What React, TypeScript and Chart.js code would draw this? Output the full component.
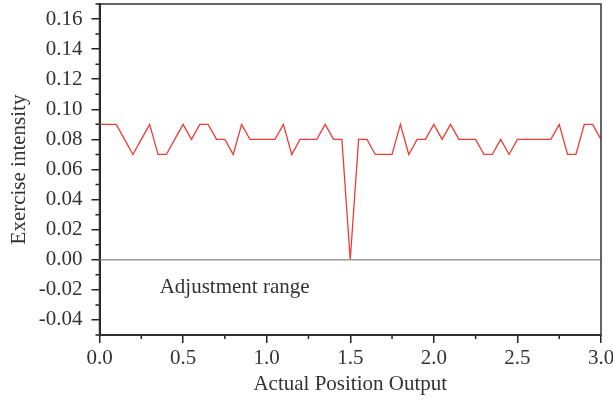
import React, { useEffect, useRef } from "react";
import { Chart, registerables } from "chart.js";

Chart.register(...registerables);

const positions = [
  0, 0.05, 0.1, 0.15, 0.2, 0.25, 0.3, 0.35, 0.4, 0.45,
  0.5, 0.55, 0.6, 0.65, 0.7, 0.75, 0.8, 0.85, 0.9, 0.95,
  1.0, 1.05, 1.1, 1.15, 1.2, 1.25, 1.3, 1.35, 1.4, 1.45,
  1.5, 1.55, 1.6, 1.65, 1.7, 1.75, 1.8, 1.85, 1.9, 1.95,
  2.0, 2.05, 2.1, 2.15, 2.2, 2.25, 2.3, 2.35, 2.4, 2.45,
  2.5, 2.55, 2.6, 2.65, 2.7, 2.75, 2.8, 2.85, 2.9, 2.95, 3.0,
];

const intensity = [
  0.09, 0.09, 0.09, 0.08, 0.07, 0.08, 0.09, 0.07, 0.07, 0.08,
  0.09, 0.08, 0.09, 0.09, 0.08, 0.08, 0.07, 0.09, 0.08, 0.08,
  0.08, 0.08, 0.09, 0.07, 0.08, 0.08, 0.08, 0.09, 0.08, 0.08,
  0.0, 0.08, 0.08, 0.07, 0.07, 0.07, 0.09, 0.07, 0.08, 0.08,
  0.09, 0.08, 0.09, 0.08, 0.08, 0.08, 0.07, 0.07, 0.08, 0.07,
  0.08, 0.08, 0.08, 0.08, 0.08, 0.09, 0.07, 0.07, 0.09, 0.09, 0.08,
];

const adjustmentX = [0, 3];
const adjustmentY = [0, 0];

const annotationText = "Adjustment range";
const annotationX = 0.36;
const annotationY = -0.0185;

const xTitle = "Actual Position Output";
const yTitle = "Exercise intensity";

const FONT = "'Liberation Serif', 'Times New Roman', serif";
const FSIZE = 21;
const TEXT = "#333333";
const AXIS = "#222222";

const isMajorX = (v: number) => Math.abs(v * 2 - Math.round(v * 2)) < 1e-6;
const isMajorY = (v: number) => Math.round(v * 100) % 2 === 0;

const extrasPlugin = {
  id: "extras",
  afterDraw(chart: any) {
    const { ctx, chartArea, scales } = chart;
    const xs = scales.x;
    const ys = scales.y;
    ctx.save();
    ctx.strokeStyle = AXIS;
    ctx.lineWidth = 1.5;
    ctx.beginPath();
    xs.ticks.forEach((t: any) => {
      if (!isMajorX(t.value)) {
        const px = xs.getPixelForValue(t.value);
        ctx.moveTo(px, chartArea.bottom);
        ctx.lineTo(px, chartArea.bottom + 4);
      }
    });
    ys.ticks.forEach((t: any) => {
      if (!isMajorY(t.value)) {
        const py = ys.getPixelForValue(t.value);
        ctx.moveTo(chartArea.left, py);
        ctx.lineTo(chartArea.left - 4, py);
      }
    });
    ctx.stroke();
    ctx.strokeStyle = "#333333";
    ctx.lineWidth = 1.5;
    ctx.strokeRect(chartArea.left, chartArea.top, chartArea.right - chartArea.left, chartArea.bottom - chartArea.top);
    ctx.fillStyle = TEXT;
    ctx.font = `${FSIZE}px ${FONT}`;
    ctx.textAlign = "left";
    ctx.textBaseline = "middle";
    ctx.fillText(annotationText, xs.getPixelForValue(annotationX), ys.getPixelForValue(annotationY));
    ctx.restore();
  },
};

export default function App() {
  const canvasRef = useRef<HTMLCanvasElement | null>(null);

  useEffect(() => {
    document.body.style.margin = "0";
    const canvas = canvasRef.current;
    if (!canvas) return;
    const chart = new Chart(canvas, {
      type: "line",
      data: {
        datasets: [
          {
            label: "Adjustment range",
            data: adjustmentX.map((x, i) => ({ x, y: adjustmentY[i] })),
            borderColor: "#9a9a9a",
            borderWidth: 1.3,
            pointRadius: 0,
            tension: 0,
          },
          {
            label: "Exercise intensity",
            data: positions.map((x, i) => ({ x, y: intensity[i] })),
            borderColor: "#ee3b36",
            borderWidth: 1.3,
            pointRadius: 0,
            tension: 0,
          },
        ],
      },
      options: {
        animation: false,
        responsive: true,
        maintainAspectRatio: false,
        layout: { padding: { left: 3, top: 4, right: 12, bottom: 5 } },
        plugins: { legend: { display: false }, tooltip: { enabled: false } },
        scales: {
          x: {
            type: "linear",
            min: 0,
            max: 3,
            afterFit: (s: any) => {
              s.height = 66;
              s.paddingLeft = 0;
              s.paddingRight = 0;
            },
            ticks: {
              stepSize: 0.25,
              autoSkip: false,
              maxRotation: 0,
              padding: 3,
              color: TEXT,
              font: { family: FONT, size: FSIZE },
              callback: (v: any) => (isMajorX(Number(v)) ? Number(v).toFixed(1) : ""),
            },
            grid: {
              drawOnChartArea: false,
              drawTicks: true,
              tickLength: 8,
              lineWidth: 1.5,
              color: (c: any) => (c.tick && isMajorX(c.tick.value) ? AXIS : "rgba(0,0,0,0)"),
            },
            border: { display: true, color: AXIS, width: 2 },
            title: { display: true, text: xTitle, color: TEXT, font: { family: FONT, size: FSIZE } },
          },
          y: {
            type: "linear",
            min: -0.05,
            max: 0.17,
            afterFit: (s: any) => {
              s.width = 96.5;
              s.paddingTop = 0;
              s.paddingBottom = 0;
            },
            ticks: {
              stepSize: 0.01,
              autoSkip: false,
              padding: 9,
              color: TEXT,
              font: { family: FONT, size: FSIZE },
              callback: (v: any) => {
                const n = Number(v);
                if (!isMajorY(n) || Math.round(n * 100) > 16) return "";
                return (Math.round(n * 100) / 100).toFixed(2);
              },
            },
            grid: {
              drawOnChartArea: false,
              drawTicks: true,
              tickLength: 8,
              lineWidth: 1.5,
              color: (c: any) => (c.tick && isMajorY(c.tick.value) ? AXIS : "rgba(0,0,0,0)"),
            },
            border: { display: true, color: AXIS, width: 2 },
            title: { display: true, text: yTitle, color: TEXT, font: { family: FONT, size: FSIZE } },
          },
        },
      },
      plugins: [extrasPlugin],
    } as any);
    return () => chart.destroy();
  }, []);

  return (
    <div style={{ position: "relative", width: 613, height: 406 }}>
      <canvas ref={canvasRef} />
    </div>
  );
}
